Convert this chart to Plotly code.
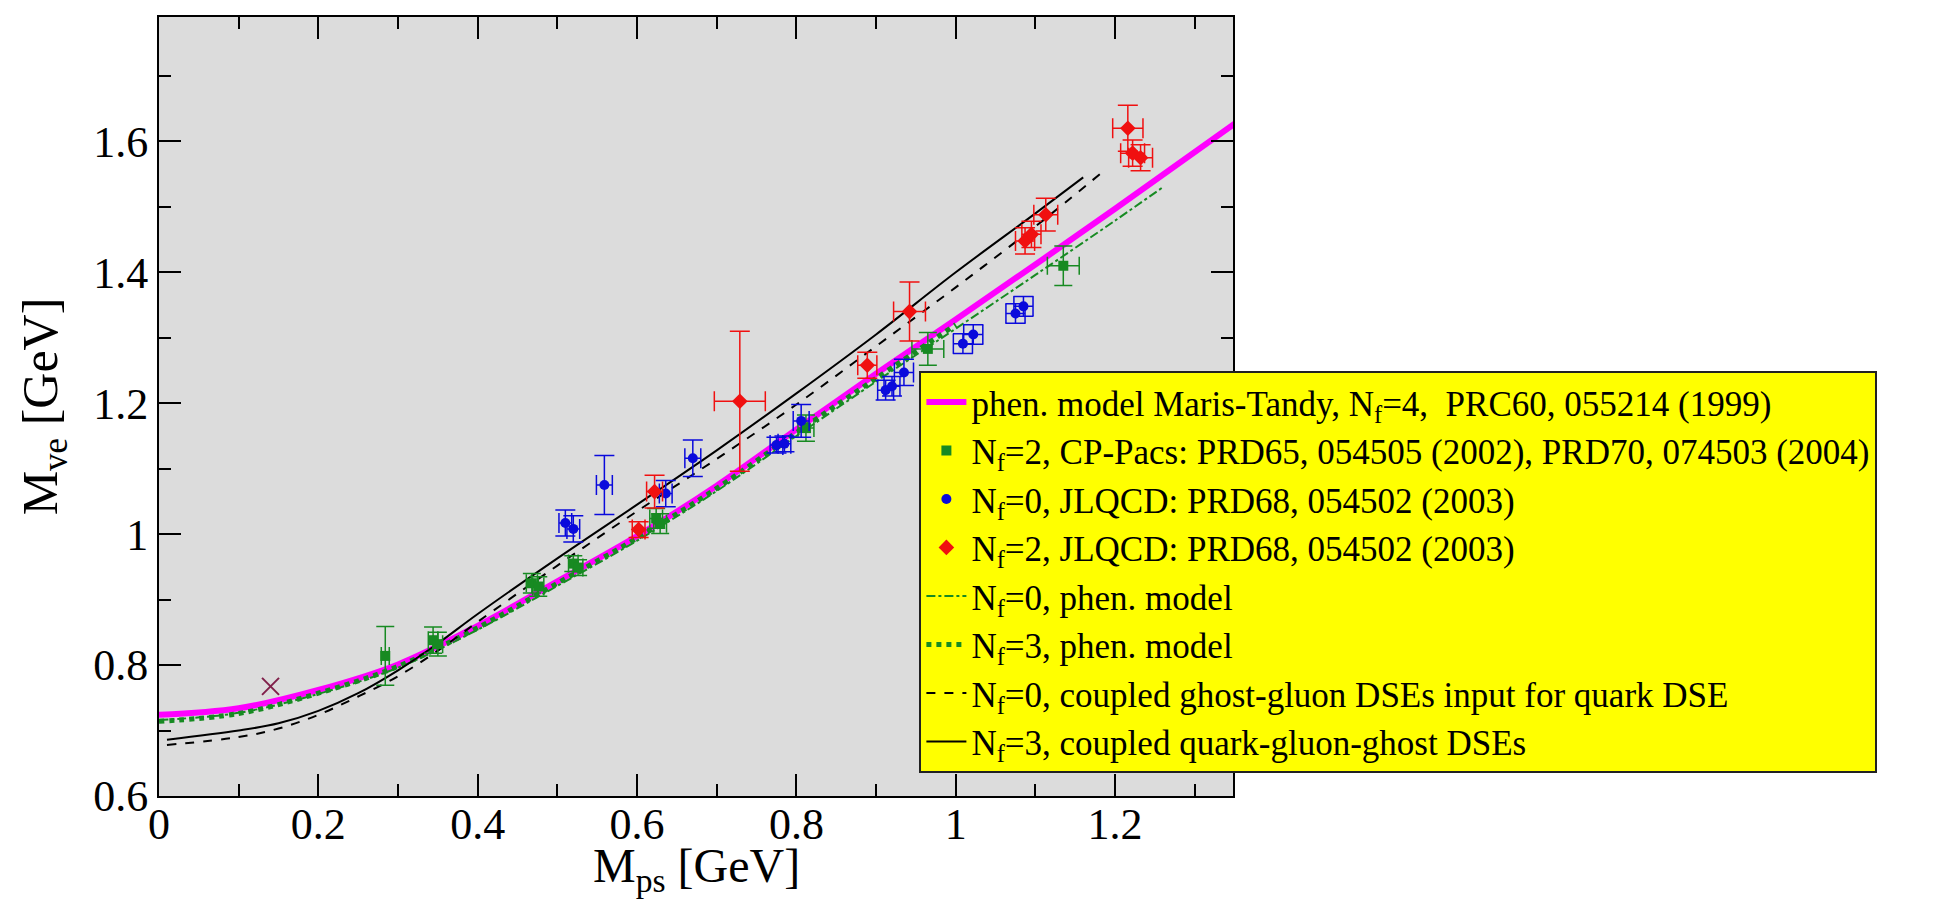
import plotly.graph_objects as go

# ---------------- data ----------------
# phen. model Maris-Tandy, Nf=4
mt_x = [0.0, 0.1, 0.2, 0.3, 0.4, 0.5, 0.6, 0.7, 0.8, 0.9, 1.0, 1.1, 1.2, 1.35]
mt_y = [0.724, 0.734, 0.762, 0.801, 0.860, 0.928, 0.997, 1.074, 1.160, 1.245, 1.328, 1.412, 1.497, 1.627]

# Nf=0 phen. model (dash-dot)
p0_x = [0.0, 0.1, 0.2, 0.3, 0.4, 0.5, 0.6, 0.7, 0.8, 0.9, 1.0, 1.1, 1.2, 1.26]
p0_y = [0.716, 0.727, 0.756, 0.796, 0.854, 0.921, 0.990, 1.066, 1.150, 1.233, 1.314, 1.396, 1.479, 1.530]

# Nf=3 phen. model (dotted)
p3_x = [0.0, 0.1, 0.2, 0.3, 0.4, 0.5, 0.6, 0.7, 0.8, 0.9, 1.0]
p3_y = [0.714, 0.726, 0.757, 0.798, 0.857, 0.925, 0.994, 1.070, 1.155, 1.238, 1.320]

# Nf=0 coupled ghost-gluon DSEs input for quark DSE (dashed)
gg_x = [0.01, 0.1, 0.15, 0.2, 0.25, 0.3, 0.35, 0.4, 0.5, 0.6, 0.7, 0.8, 0.9, 1.0, 1.1, 1.184]
gg_y = [0.678, 0.690, 0.703, 0.724, 0.752, 0.783, 0.822, 0.866, 0.952, 1.035, 1.115, 1.198, 1.287, 1.377, 1.470, 1.553]

# Nf=3 coupled quark-gluon-ghost DSEs (solid)
qg_x = [0.01, 0.1, 0.15, 0.2, 0.25, 0.3, 0.35, 0.4, 0.5, 0.6, 0.7, 0.8, 0.9, 1.0, 1.1, 1.16]
qg_y = [0.686, 0.700, 0.711, 0.730, 0.757, 0.792, 0.833, 0.878, 0.963, 1.045, 1.128, 1.215, 1.305, 1.400, 1.490, 1.545]

# Nf=2 CP-PACS
cp_x = [0.284, 0.344, 0.350, 0.468, 0.476, 0.520, 0.526, 0.624, 0.629, 0.812, 0.965, 1.135]
cp_y = [0.814, 0.838, 0.832, 0.925, 0.920, 0.955, 0.949, 1.024, 1.016, 1.162, 1.283, 1.410]
cp_ex = [0.005, 0.006, 0.006, 0.007, 0.007, 0.006, 0.006, 0.008, 0.008, 0.010, 0.020, 0.020]
cp_ey = [0.045, 0.020, 0.018, 0.015, 0.015, 0.012, 0.012, 0.015, 0.015, 0.020, 0.025, 0.030]

# Nf=0 JLQCD
j0_x = [0.510, 0.520, 0.559, 0.636, 0.670, 0.775, 0.785, 0.806, 0.912, 0.920, 0.935, 1.009, 1.022, 1.075, 1.085]
j0_y = [1.017, 1.008, 1.075, 1.062, 1.116, 1.136, 1.138, 1.173, 1.220, 1.226, 1.247, 1.291, 1.305, 1.337, 1.348]
j0_ex = [0.008, 0.008, 0.010, 0.008, 0.010, 0.008, 0.008, 0.010, 0.010, 0.010, 0.012, 0.012, 0.012, 0.012, 0.012]
j0_ey = [0.020, 0.020, 0.045, 0.020, 0.028, 0.012, 0.012, 0.025, 0.015, 0.015, 0.020, 0.015, 0.015, 0.015, 0.015]

# Nf=2 JLQCD
j2_x = [0.602, 0.622, 0.729, 0.889, 0.942, 1.087, 1.095, 1.113, 1.216, 1.222, 1.232]
j2_y = [1.007, 1.065, 1.203, 1.258, 1.340, 1.448, 1.458, 1.488, 1.620, 1.582, 1.575]
j2_ex = [0.008, 0.010, 0.032, 0.012, 0.020, 0.012, 0.012, 0.015, 0.019, 0.015, 0.015]
j2_ey = [0.012, 0.025, 0.107, 0.020, 0.045, 0.020, 0.020, 0.025, 0.035, 0.020, 0.020]

# physical rho
rho_x = [0.140]
rho_y = [0.7675]

FONT = "Liberation Serif, Times New Roman, Times, serif"
GREEN = "#178a22"
BLUE = "#0a0adc"
RED = "#f01010"

fig = go.Figure()

# lines
fig.add_trace(go.Scatter(x=mt_x, y=mt_y, mode="lines", line=dict(color="#ff00ff", width=6, shape="spline"),
                         name="phen. model Maris-Tandy, N<sub>f</sub>=4,  PRC60, 055214 (1999)", legendrank=1))
fig.add_trace(go.Scatter(x=p0_x, y=p0_y, mode="lines", line=dict(color=GREEN, width=2, dash="dashdot", shape="spline"),
                         name="N<sub>f</sub>=0, phen. model", legendrank=5))
fig.add_trace(go.Scatter(x=p3_x, y=p3_y, mode="lines", line=dict(color=GREEN, width=5, dash="dot", shape="spline"),
                         name="N<sub>f</sub>=3, phen. model", legendrank=6))
fig.add_trace(go.Scatter(x=gg_x, y=gg_y, mode="lines", line=dict(color="black", width=2, dash="dash", shape="spline"),
                         name="N<sub>f</sub>=0, coupled ghost-gluon DSEs input for quark DSE", legendrank=7))
fig.add_trace(go.Scatter(x=qg_x, y=qg_y, mode="lines", line=dict(color="black", width=2, shape="spline"),
                         name="N<sub>f</sub>=3, coupled quark-gluon-ghost DSEs", legendrank=8))

# data points
fig.add_trace(go.Scatter(x=cp_x, y=cp_y, mode="markers",
                         marker=dict(symbol="square", size=10, color=GREEN),
                         error_x=dict(type="data", array=cp_ex, color=GREEN, thickness=1.5, width=9),
                         error_y=dict(type="data", array=cp_ey, color=GREEN, thickness=1.5, width=9),
                         name="N<sub>f</sub>=2, CP-Pacs: PRD65, 054505 (2002), PRD70, 074503 (2004)", legendrank=2))
fig.add_trace(go.Scatter(x=j0_x, y=j0_y, mode="markers",
                         marker=dict(symbol="circle", size=10, color=BLUE),
                         error_x=dict(type="data", array=j0_ex, color=BLUE, thickness=1.5, width=10),
                         error_y=dict(type="data", array=j0_ey, color=BLUE, thickness=1.5, width=10),
                         name="N<sub>f</sub>=0, JLQCD: PRD68, 054502 (2003)", legendrank=3))
fig.add_trace(go.Scatter(x=j2_x, y=j2_y, mode="markers",
                         marker=dict(symbol="diamond", size=12, color=RED),
                         error_x=dict(type="data", array=j2_ex, color=RED, thickness=1.5, width=10),
                         error_y=dict(type="data", array=j2_ey, color=RED, thickness=1.5, width=10),
                         name="N<sub>f</sub>=2, JLQCD: PRD68, 054502 (2003)", legendrank=4))
fig.add_trace(go.Scatter(x=rho_x, y=rho_y, mode="markers",
                         marker=dict(symbol="x-thin", size=17, line=dict(color="#80204a", width=2)),
                         showlegend=False))

axis_common = dict(
    showline=True, linecolor="black", linewidth=2, mirror="allticks",
    ticks="inside", ticklen=22, tickwidth=2, tickcolor="black",
    showgrid=False, zeroline=False,
    tickfont=dict(family=FONT, size=44, color="black"),
)

fig.update_xaxes(range=[0, 1.348], dtick=0.2, tick0=0, ticklabelstandoff=-12,
                 minor=dict(ticks="inside", ticklen=12, tickwidth=2, tickcolor="black", dtick=0.1, showgrid=False),
                 **axis_common)
fig.update_yaxes(range=[0.6, 1.79], dtick=0.2, tick0=0.6,
                 minor=dict(ticks="inside", ticklen=12, tickwidth=2, tickcolor="black", dtick=0.1, showgrid=False),
                 title=dict(text="M<sub>ve</sub> [GeV]", font=dict(family=FONT, size=50, color="black"), standoff=20),
                 **axis_common)

fig.add_annotation(text="M<sub>ps</sub> [GeV]", xref="paper", yref="paper", x=0.5, y=-0.094,
                   xanchor="center", yanchor="middle", showarrow=False,
                   font=dict(family=FONT, size=48, color="black"))

fig.update_layout(
    width=1955, height=904,
    margin=dict(l=151, r=730, t=9, b=116, autoexpand=False),
    plot_bgcolor="#dcdcdc", paper_bgcolor="white",
    font=dict(family=FONT, color="black"),
    legend=dict(x=0.708, y=0.546, xanchor="left", yanchor="top",
                bgcolor="#ffff00", bordercolor="#222222", borderwidth=2,
                font=dict(family=FONT, size=35, color="black"),
                itemwidth=40, tracegroupgap=0),
)

fig.write_html("out.html")
